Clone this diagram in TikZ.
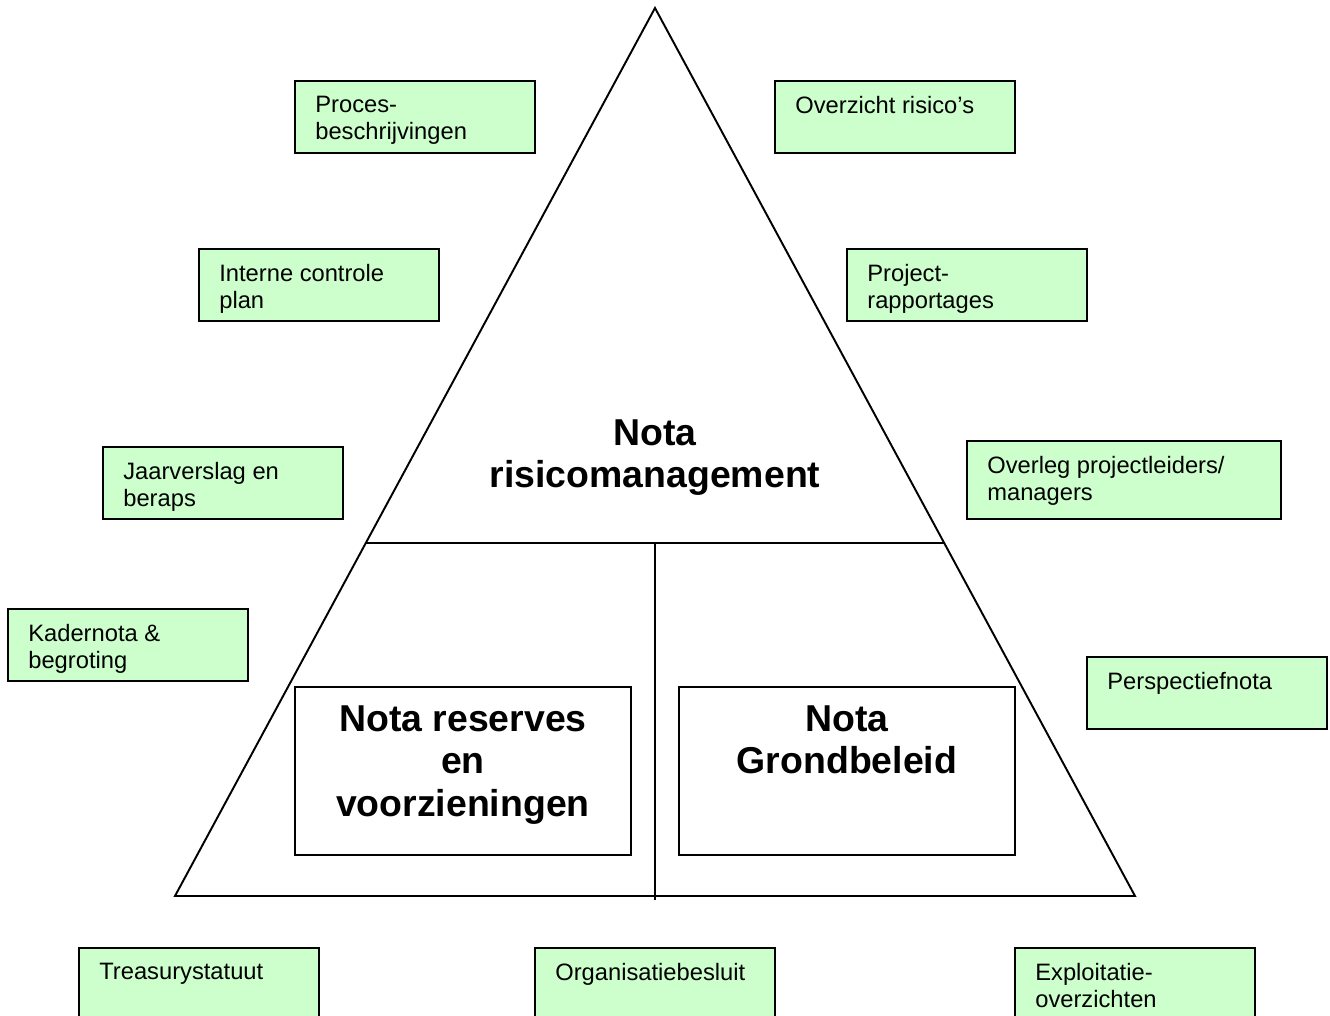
\documentclass[tikz,border=0pt]{standalone}
\usepackage{fontspec}
\setmainfont{Liberation Sans}
\usetikzlibrary{positioning,calc}
\definecolor{notegreen}{HTML}{CCFFCC}

\tikzset{
  gbox/.style={draw, fill=notegreen, line width=1.1pt, anchor=north west, inner sep=0pt},
  gtext/.style={anchor=north west, align=left, inner sep=0pt, font=\fontsize{13.5}{15.4}\selectfont},
  wbox/.style={draw, line width=1.1pt, anchor=north west, inner sep=0pt, minimum width=6.72cm, minimum height=3.36cm},
  bigtext/.style={anchor=north, align=center, inner sep=0pt, font=\fontsize{21.3}{24.4}\selectfont\bfseries}
}

\begin{document}
\begin{tikzpicture}[x=0.02cm, y=-0.02cm]
      \useasboundingbox (0,0) rectangle (1330,1016);
      % pyramid
      \coordinate (apex) at (655,8);
      \coordinate (bl) at (175,896);
      \coordinate (br) at (1135,896);
      \draw[line width=1.1pt, line join=miter] (apex) -- (bl) -- (br) -- cycle;
      \coordinate (midl) at ($(apex)!0.6025!(bl)$);
      \coordinate (midr) at ($(apex)!0.6025!(br)$);
      \draw[line width=1.1pt] (midl) -- (midr);
      \coordinate (midc) at (655,543);
      \coordinate (basec) at (655,900);
      \draw[line width=1.1pt] (midc) -- (basec);
      \node[bigtext] (risico) at (655,419) {Nota\\risicomanagement};
      % lower boxes
      \node[wbox] (reserves) at (294,686) {};
      \node[bigtext] (reservestxt) at ([shift={(0,19)}]reserves.north) {Nota reserves\\en\\voorzieningen};
      \node[wbox] (grond) at (678,686) {};
      \node[bigtext] (grondtxt) at ([shift={(0,19)}]grond.north) {Nota\\Grondbeleid};
      % green notes
      \foreach \n/\x/\y/\w/\h/\t in {
          proces/294/80/4.8/1.44/{Proces-\\beschrijvingen},
          overzicht/774/80/4.8/1.44/{Overzicht risico’s},
          interne/198/248/4.8/1.44/{Interne controle\\plan},
          project/846/248/4.8/1.44/{Project-\\rapportages},
          jaarverslag/102/446/4.8/1.44/{Jaarverslag en\\beraps},
          overleg/966/440/6.28/1.56/{Overleg projectleiders/\\managers},
          kadernota/7/608/4.8/1.44/{Kadernota \&\\begroting},
          perspectief/1086/656/4.8/1.44/{Perspectiefnota},
          treasury/78/947/4.8/1.6/{Treasurystatuut},
          organisatie/534/947/4.8/1.6/{Organisatiebesluit},
          exploitatie/1014/947/4.8/1.6/{Exploitatie-\\overzichten}} {
        \node[gbox, minimum width=\w cm, minimum height=\h cm] (\n) at (\x,\y) {};
        \node[gtext] (\n txt) at ([shift={(21,16)}]\n.north west) {\t};
      }
    \end{tikzpicture}
\end{document}
